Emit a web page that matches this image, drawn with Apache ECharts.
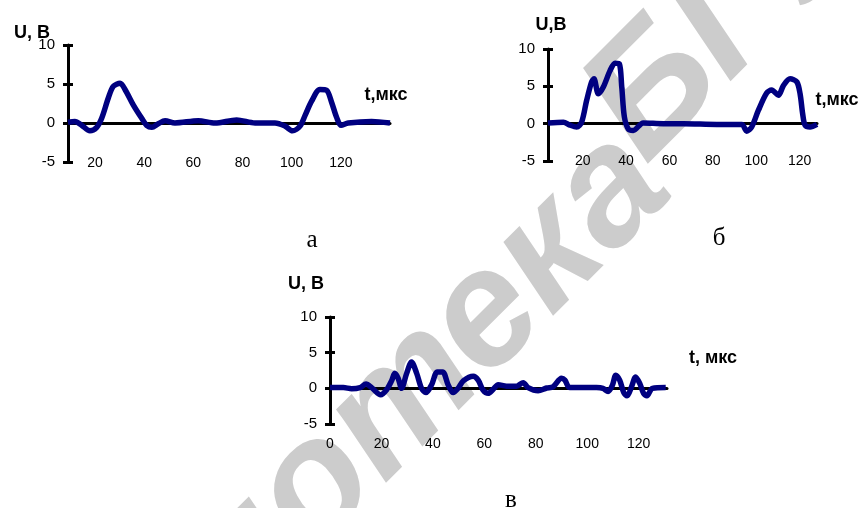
<!DOCTYPE html>
<html>
<head>
<meta charset="utf-8">
<script src="https://cdn.jsdelivr.net/npm/echarts@6/dist/echarts.min.js"></script>
<style>
  html, body { margin: 0; background: #fff; }
  #main { width: 864px; height: 508px; }
</style>
</head>
<body>
<div id="main"></div>
<script>
// осциллограммы: t, мкс / U, В
const tA = [9, 11.8, 14.6, 17.9, 20.7, 22.7, 25.4, 27.4, 30.2, 32.2, 35.6, 39.0, 41.0, 43.1, 45.7, 48.5, 52.5, 62.0, 68.8, 77.6, 85.1, 93.2, 97.3, 100.3, 103.4, 105.5, 108.1, 111.5, 114.2, 116.3, 118.3, 120.1, 123.0, 132.5, 140];
const uA = [0.1, 0.2, -0.3, -1.0, -0.55, 0.6, 3.2, 4.7, 5.1, 4.3, 2.3, 0.6, -0.3, -0.55, -0.1, 0.3, 0, 0.3, 0, 0.4, 0, 0, -0.4, -1.0, -0.4, 1.0, 2.8, 4.3, 4.2, 2.6, 0.7, -0.3, 0, 0.2, 0];

const tB = [4, 11.1, 14.1, 17.2, 19.5, 21.8, 24.1, 25.2, 27.2, 29.5, 32.6, 34.9, 36.9, 38.0, 39.2, 41.0, 43.3, 47.9, 57.2, 66.4, 81.8, 93.3, 95.6, 97.9, 101.0, 104.8, 107.1, 110.2, 112.5, 115.6, 118.7, 120.2, 121.4, 122.5, 124.8, 128];
const uB = [0.1, 0.2, -0.2, -0.45, 0.2, 3.1, 5.6, 6.0, 4.0, 4.9, 7.1, 8.1, 8.0, 4.9, 0.9, -0.7, -0.9, 0.1, 0, 0, -0.1, -0.1, -1.0, -0.45, 1.8, 4.1, 4.5, 3.8, 5.1, 6.0, 5.6, 4.0, 1.3, -0.2, -0.45, -0.1];

const tV = [0, 5.2, 8.4, 11.7, 14.0, 16.2, 19.7, 22.0, 24.0, 25.2, 26.5, 27.8, 29.8, 31.7, 33.7, 35.6, 37.3, 39.5, 41.7, 43.8, 45.9, 47.9, 49.8, 51.8, 55.7, 57.6, 59.5, 61.5, 63.4, 65.4, 68.6, 72.5, 75.1, 77.0, 80.9, 84.2, 86.7, 90.0, 91.3, 93.2, 103.6, 106.1, 108.1, 109.8, 111.1, 112.6, 114.2, 115.5, 117.2, 118.8, 120.4, 121.9, 123.2, 125.3, 130.5];
const uV = [0.1, 0.1, -0.05, 0.1, 0.6, 0.1, -0.9, -0.2, 1.1, 2.1, 1.4, 0, 2.1, 3.7, 2.1, 0, -0.6, 0.5, 2.3, 2.3, 0.5, -0.6, 0, 1.05, 1.7, 1.15, -0.25, -0.7, -0.15, 0.5, 0.3, 0.3, 0.8, 0.1, -0.35, 0.05, 0.2, 1.4, 1.15, 0.1, 0.1, 0, -0.45, 0.45, 1.85, 1.15, -0.6, -1.05, 0.2, 1.6, 0.7, -0.7, -1.05, 0, 0.1];

const tLabelsAB = [20, 40, 60, 80, 100, 120];
const tLabelsV = [0, 20, 40, 60, 80, 100, 120];
const uTicks = [-5, 10, 5];  // min, max, шаг

const FONT = 'Liberation Sans, Arial, sans-serif';
const SERIF = 'Liberation Serif, Times New Roman, serif';

const chart = echarts.init(document.getElementById('main'));

const panels = [
  { t: tA, u: uA, labels: tLabelsAB, min: 9, max: 140, margin: -6,
    grid: { left: 68, top: 45, width: 322, height: 117 } },
  { t: tB, u: uB, labels: tLabelsAB, min: 4, max: 128, margin: -7,
    grid: { left: 548, top: 49, width: 269, height: 112 } },
  { t: tV, u: uV, labels: tLabelsV, min: 0, max: 131, margin: 13,
    grid: { left: 330, top: 317, width: 337, height: 107 } }
];

const grid = [], xAxis = [], yAxis = [], series = [];
panels.forEach((p, i) => {
  grid.push(Object.assign({ outerBoundsMode: 'none' }, p.grid));
  // нижняя ось - только подписи
  xAxis.push({
    type: 'value', gridIndex: i, position: 'bottom', min: p.min, max: p.max,
    axisLine: { show: false, onZero: false },
    axisTick: { show: false },
    splitLine: { show: false },
    axisLabel: { customValues: p.labels, margin: p.margin, color: '#000', fontSize: 14, fontFamily: FONT }
  });
  // линия нуля
  xAxis.push({
    type: 'value', gridIndex: i, position: 'top', min: p.min, max: p.max,
    axisLine: { onZero: true, lineStyle: { color: '#000', width: 3 } },
    axisTick: { show: false }, axisLabel: { show: false }, splitLine: { show: false }
  });
  yAxis.push({
    type: 'value', gridIndex: i, position: 'left', min: uTicks[0], max: uTicks[1], interval: uTicks[2],
    axisLine: { show: true, onZero: false, lineStyle: { color: '#000', width: 3 } },
    axisTick: { show: true, length: 5, lineStyle: { color: '#000', width: 3 } },
    splitLine: { show: false },
    axisLabel: { margin: 13, color: '#000', fontSize: 15, fontFamily: FONT }
  });
  // засечки внутрь (крестом)
  yAxis.push({
    type: 'value', gridIndex: i, position: 'left', min: uTicks[0], max: uTicks[1], interval: uTicks[2],
    axisLine: { show: false, onZero: false },
    axisTick: { show: true, inside: true, length: 5, lineStyle: { color: '#000', width: 3 } },
    splitLine: { show: false }, axisLabel: { show: false }
  });
  series.push({
    type: 'line', xAxisIndex: 2 * i, yAxisIndex: 2 * i,
    data: p.t.map((t, k) => [t, p.u[k]]),
    smooth: 0.3, showSymbol: false, silent: true,
    lineStyle: { color: '#000080', width: 5.5 }, z: 3
  });
});

function label(text, x, y, opts) {
  return {
    type: 'text', x: x, y: y, z: 10, silent: true,
    style: Object.assign({
      text: text, align: 'center', verticalAlign: 'middle',
      fill: '#000', fontSize: 18, fontWeight: 'bold', fontFamily: FONT
    }, opts || {})
  };
}

const wm = { fontSize: 165, fontFamily: FONT, fontStyle: 'italic', fontWeight: 'bold', fill: '#cccccc', verticalAlign: 'bottom' };

chart.setOption({
  animation: false,
  backgroundColor: '#fff',
  grid: grid,
  xAxis: xAxis,
  yAxis: yAxis,
  series: series,
  graphic: [
    // водяной знак
    { type: 'text', x: 735, y: 186, rotation: Math.PI / 4, z: -10, silent: true,
      style: Object.assign({ text: 'Библиотека ', align: 'right' }, wm) },
    { type: 'text', x: 672, y: 192, rotation: Math.PI / 4, z: -10, silent: true,
      style: Object.assign({ text: 'БГУИР', align: 'left' }, wm) },

    label('U, В', 32, 33),
    label('t,мкс', 386, 95),
    label('U,В', 551, 25),
    label('t,мкс', 837, 100),
    label('U, В', 306, 284),
    label('t, мкс', 713, 358),

    label('а', 312, 240, { fontSize: 25, fontWeight: 'normal', fontFamily: SERIF }),
    label('б', 719, 238, { fontSize: 25, fontWeight: 'normal', fontFamily: SERIF }),
    label('в', 511, 500, { fontSize: 25, fontWeight: 'normal', fontFamily: SERIF })
  ]
});
</script>
</body>
</html>
